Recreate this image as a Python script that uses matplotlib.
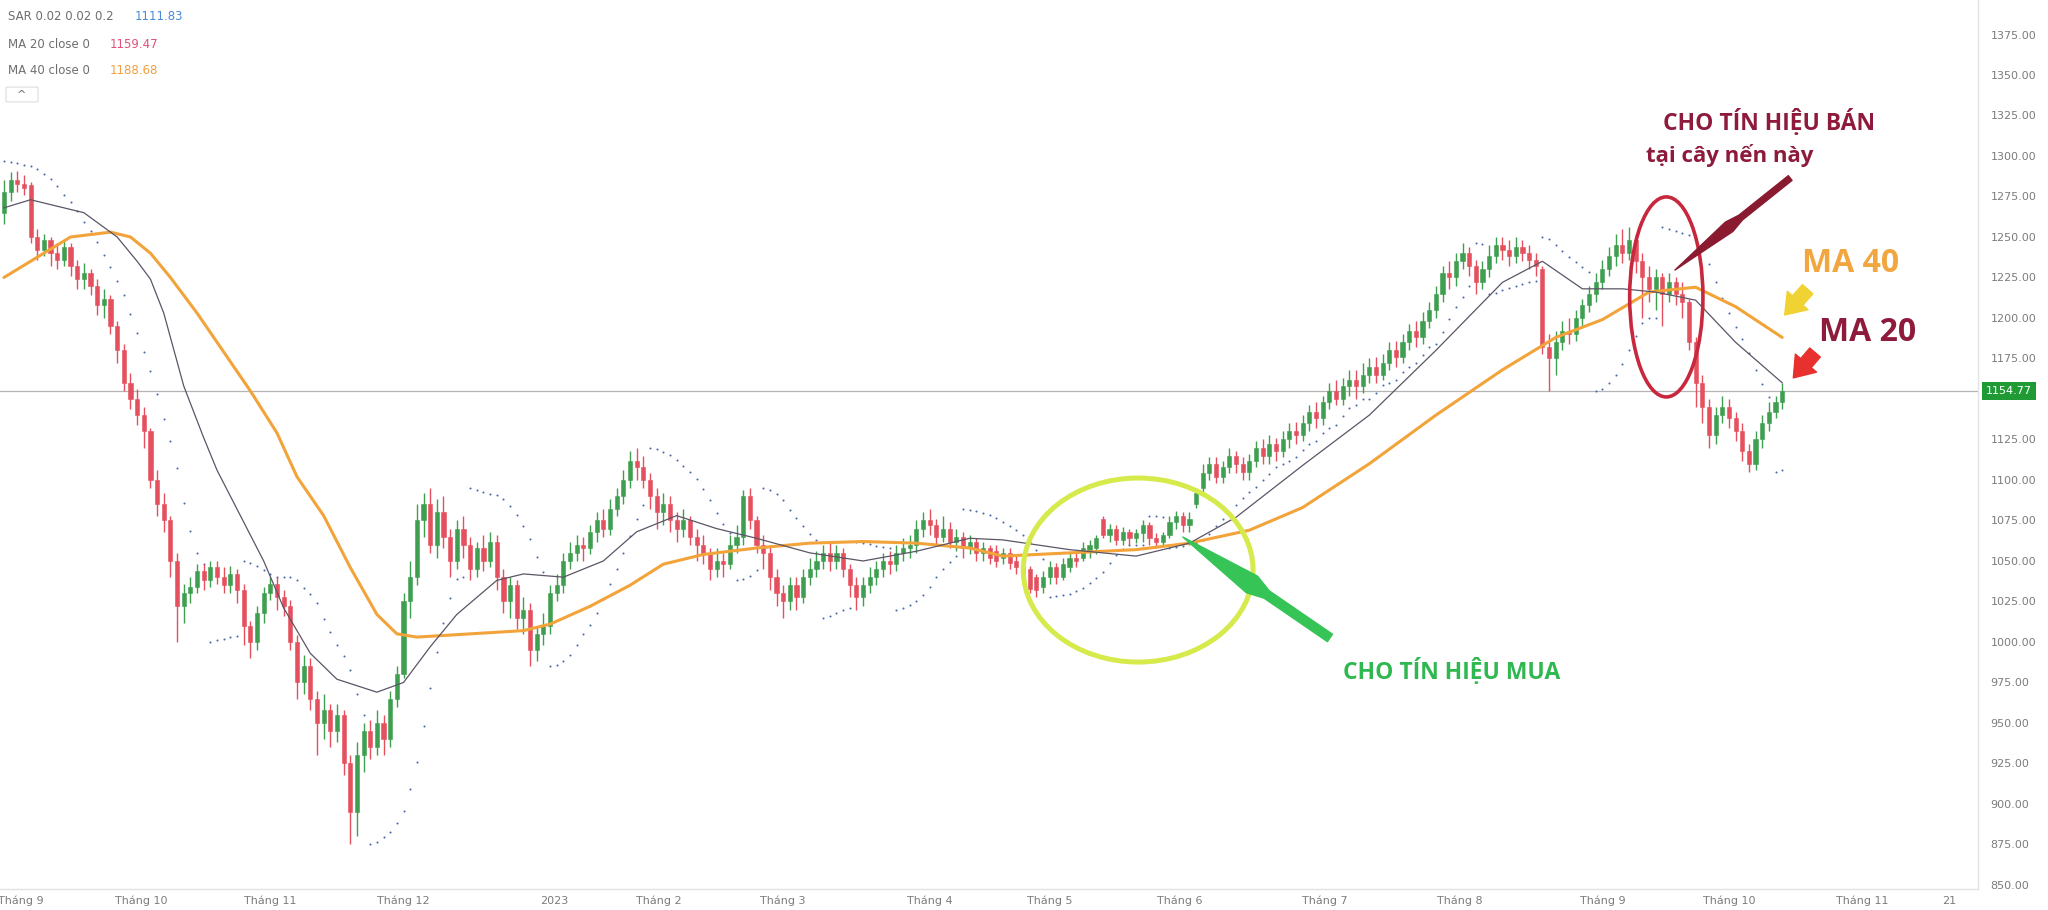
import numpy as np
import matplotlib
matplotlib.use("Agg")
import matplotlib.pyplot as plt
from matplotlib.patches import Ellipse, Polygon, FancyBboxPatch
from matplotlib.transforms import IdentityTransform, blended_transform_factory

# ---------------- data (daily candles, Sep 2022 -> Oct 2023) ----------------
opens = [
 1265,1278,1285,1283,1282,1250,1242,1248,1240,1236,
 1244,1232,1224,1228,1220,1208,1212,1195,1180,1160,
 1150,1140,1130,1100,1085,1075,1050,1022,1030,1034,
 1044,1038,1046,1040,1035,1042,1032,1010,1000,1018,
 1030,1036,1028,1022,1000,975,985,965,950,958,
 945,955,925,895,930,945,935,950,940,965,
 980,1025,1040,1075,1085,1060,1080,1065,1050,1070,
 1060,1045,1058,1050,1062,1040,1025,1035,1015,1020,
 995,1005,1010,1030,1035,1050,1055,1060,1058,1068,
 1075,1070,1082,1090,1100,1112,1108,1100,1090,1080,
 1085,1075,1070,1075,1065,1060,1055,1045,1050,1048,
 1060,1065,1090,1075,1060,1055,1040,1030,1025,1035,
 1028,1040,1045,1050,1055,1050,1055,1045,1035,1028,
 1035,1040,1045,1050,1048,1055,1058,1060,1070,1075,
 1072,1065,1070,1062,1065,1058,1062,1055,
 1058,1056,1052,1055,1050,1046,1045,1040,1034,1040,1046,1040,
 1046,1052,1052,1056,1058,1076,1066,1070,1063,1068,
 1064,1067,1072,1064,1062,1066,1074,1078,1072,1085,
 1095,1104,1110,1102,1108,1115,1110,1105,1112,1120,
 1115,1122,1118,1125,1130,1128,1135,1142,1138,1148,
 1155,1150,1158,1162,1158,1165,1170,1165,1172,1180,
 1176,1185,1192,1188,1198,1205,1215,1228,1225,1235,
 1240,1232,1222,1230,1238,1245,1242,1238,1244,1240,
 1236,1230,1182,1175,1185,1192,1190,1200,1208,1215,
 1222,1230,1238,1245,1240,1248,1235,1225,1218,1225,
 1215,1222,1215,1210,1185,1160,1145,1128,1140,1145,
 1138,1130,1118,1110,1125,1135,1142,1148]
closes = [
 1278,1285,1283,1280,1250,1242,1248,1240,1236,1244,
 1232,1224,1228,1220,1208,1212,1195,1180,1160,1150,
 1140,1130,1100,1085,1075,1050,1022,1030,1034,1044,
 1038,1046,1040,1035,1042,1032,1010,1000,1018,1030,
 1036,1028,1022,1000,975,985,965,950,958,945,
 955,925,895,930,945,935,950,940,965,980,
 1025,1040,1075,1085,1060,1080,1065,1050,1070,1060,
 1045,1058,1050,1062,1040,1025,1035,1015,1020,995,
 1005,1010,1030,1035,1050,1055,1060,1058,1068,1075,
 1070,1082,1090,1100,1112,1108,1100,1090,1080,1085,
 1075,1070,1075,1065,1060,1055,1045,1050,1048,1060,
 1065,1090,1075,1060,1055,1040,1030,1025,1035,1028,
 1040,1045,1050,1055,1050,1055,1045,1035,1028,1035,
 1040,1045,1050,1048,1055,1058,1060,1070,1075,1072,
 1065,1070,1062,1065,1058,1062,1055,1058,
 1052,1050,1055,1049,1046,1040,1033,1032,1040,1046,1040,1048,
 1052,1050,1058,1060,1064,1066,1070,1063,1068,1064,
 1067,1072,1064,1062,1066,1074,1078,1072,1076,1092,
 1104,1110,1102,1108,1115,1110,1105,1112,1120,1115,
 1122,1118,1125,1130,1128,1135,1142,1138,1148,1155,
 1150,1158,1162,1158,1165,1170,1165,1172,1180,1176,
 1185,1192,1188,1198,1205,1215,1228,1225,1235,1240,
 1232,1222,1230,1238,1245,1242,1238,1244,1240,1236,
 1232,1182,1175,1185,1192,1190,1200,1208,1215,1222,
 1230,1238,1245,1240,1248,1235,1225,1218,1225,1215,
 1222,1215,1210,1185,1160,1145,1128,1140,1145,1138,
 1130,1118,1110,1125,1135,1142,1148,1154.77]
highs = [
 1285,1290,1291,1288,1284,1255,1252,1250,1246,1248,
 1246,1236,1234,1230,1224,1218,1214,1198,1184,1166,
 1156,1145,1132,1106,1092,1078,1055,1036,1040,1048,
 1048,1050,1050,1046,1047,1045,1036,1013,1022,1034,
 1040,1040,1032,1026,1004,992,990,970,968,962,
 962,958,930,938,950,952,958,955,970,985,
 1030,1050,1085,1092,1095,1088,1090,1070,1075,1078,
 1065,1062,1066,1068,1066,1045,1040,1038,1028,1024,
 1010,1018,1035,1042,1055,1062,1066,1065,1072,1080,
 1082,1088,1095,1106,1118,1120,1115,1104,1095,1092,
 1090,1080,1082,1078,1070,1066,1058,1058,1055,1066,
 1072,1094,1095,1078,1066,1060,1045,1035,1040,1040,
 1045,1052,1056,1060,1062,1060,1058,1048,1040,1040,
 1046,1050,1055,1056,1060,1064,1066,1075,1080,1082,
 1076,1078,1074,1070,1068,1066,1064,1062,
 1060,1060,1058,1058,1054,1050,1047,1042,1044,1050,1049,1052,
 1055,1056,1062,1063,1066,1078,1073,1072,1071,1070,
 1070,1075,1074,1067,1068,1078,1081,1080,1080,1095,
 1110,1114,1114,1112,1120,1118,1114,1116,1124,1125,
 1128,1126,1130,1135,1136,1140,1146,1148,1152,1160,
 1162,1163,1168,1168,1172,1175,1176,1178,1185,1186,
 1190,1196,1198,1204,1210,1220,1232,1235,1240,1246,
 1244,1236,1235,1245,1250,1250,1248,1250,1248,1245,
 1240,1232,1190,1192,1198,1200,1205,1212,1220,1228,
 1236,1244,1252,1255,1256,1252,1240,1232,1230,1228,
 1228,1225,1222,1212,1188,1165,1150,1145,1152,1150,
 1142,1135,1122,1130,1140,1148,1152,1160]
lows = [
 1258,1272,1278,1276,1246,1236,1238,1232,1230,1232,
 1226,1218,1218,1214,1202,1200,1190,1172,1155,1144,
 1134,1120,1095,1078,1068,1040,1000,1012,1024,1030,
 1032,1034,1036,1030,1030,1024,998,990,995,1012,
 1026,1020,1016,995,965,968,958,930,940,935,
 938,918,875,880,920,928,930,930,935,960,
 978,1015,1035,1065,1055,1052,1058,1040,1045,1052,
 1038,1040,1044,1046,1032,1018,1015,1008,1005,985,
 988,998,1005,1025,1030,1045,1050,1050,1054,1062,
 1065,1066,1078,1085,1095,1100,1095,1082,1070,1072,
 1068,1062,1065,1060,1050,1048,1038,1040,1040,1045,
 1055,1060,1070,1055,1045,1032,1022,1015,1020,1020,
 1024,1035,1040,1045,1044,1045,1040,1028,1020,1022,
 1030,1035,1040,1042,1044,1050,1052,1055,1065,1066,
 1060,1062,1058,1056,1052,1054,1050,1050,
 1048,1046,1048,1045,1042,1036,1030,1028,1030,1036,1036,1038,
 1043,1046,1050,1052,1054,1064,1062,1060,1060,1060,
 1061,1062,1060,1058,1060,1064,1070,1068,1068,1083,
 1092,1100,1098,1098,1104,1104,1100,1100,1108,1110,
 1110,1112,1114,1120,1122,1124,1130,1132,1134,1144,
 1146,1146,1152,1150,1154,1160,1160,1162,1168,1170,
 1172,1180,1182,1184,1194,1200,1210,1218,1220,1230,
 1226,1215,1218,1225,1234,1236,1232,1234,1235,1230,
 1226,1178,1155,1165,1180,1184,1186,1195,1204,1210,
 1218,1226,1232,1234,1236,1228,1200,1210,1205,1195,
 1210,1208,1200,1180,1145,1135,1120,1122,1135,1132,
 1124,1112,1105,1106,1120,1130,1138,1144]

# moving averages (candle index, value)
ma20_idx = [0,4,12,17,20,22,24,27,30,32,36,39,42,46,50,56,60,64,68,74,78,84,90,95,101,
            107,113,121,129,137,145,150,160,170,178,185,195,205,215,225,231,237,243,248,
            254,260,267]
ma20_val = [1268,1273,1265,1250,1235,1224,1203,1158,1126,1106,1074,1050,1021,993,977,969,
            975,997,1017,1038,1042,1040,1050,1068,1078,1070,1064,1055,1050,1056,1064,1063,
            1057,1053,1061,1077,1109,1140,1180,1222,1235,1218,1218,1216,1211,1185,1160]
ma40_idx = [0,10,16,19,22,25,29,33,37,41,44,48,52,56,59,62,70,78,82,88,94,99,105,113,121,
            129,137,145,150,160,170,178,187,195,205,215,225,233,240,247,254,260,267]
ma40_val = [1225,1250,1253,1250,1240,1225,1203,1179,1155,1129,1102,1078,1046,1017,1005,
            1003,1005,1007,1011,1022,1035,1048,1054,1058,1061,1062,1061,1058,1053,1055,
            1057,1061,1069,1083,1110,1140,1168,1188,1199,1216,1219,1207,1188]

month_pos = [2.6, 20.6, 40, 60, 82.7, 98.4, 117, 139, 157, 176.5, 198.4, 218.6, 240, 259, 279, 292]
month_labels = ["Tháng 9", "Tháng 10", "Tháng 11", "Tháng 12", "2023", "Tháng 2", "Tháng 3",
                "Tháng 4", "Tháng 5", "Tháng 6", "Tháng 7", "Tháng 8", "Tháng 9", "Tháng 10",
                "Tháng 11", "21"]
price_ticks = [850, 875, 900, 925, 950, 975, 1000, 1025, 1050, 1075, 1100, 1125,
               1175, 1200, 1225, 1250, 1275, 1300, 1325, 1350, 1375]
last_price = 1154.77
legend_rows = [("SAR 0.02 0.02 0.2", "1111.83"), ("MA 20 close 0", "1159.47"),
               ("MA 40 close 0", "1188.68")]

assert len(opens) == len(closes) == len(highs) == len(lows)

# ---------------- figure ----------------
W, H = 2048, 910
fig = plt.figure(figsize=(W / 100, H / 100), dpi=100)
fig.patch.set_facecolor("white")
ax = fig.add_axes([0, 1 - 889 / H, 1978 / W, 889 / H])
ax.set_facecolor("white")
ax.set_xlim(-0.59, 296.4)
ax.set_ylim(847.5, 1396.3)

o = np.array(opens, float); c = np.array(closes, float)
h = np.array(highs, float); l = np.array(lows, float)
x = np.arange(len(c))
UP, DN = "#3f9f50", "#e4505e"
col = np.where(c >= o, UP, DN)
ax.vlines(x, l, h, colors=col, lw=1.0, zorder=3)
ax.bar(x, np.maximum(np.abs(c - o), 0.9), bottom=np.minimum(o, c), width=0.62,
       color=col, edgecolor=col, lw=0.4, zorder=4)

# parabolic SAR (0.02, 0.02, 0.2) computed from the candles
def psar(hi, lo, af0=0.02, step=0.02, afmax=0.2):
    n = len(hi); out = np.zeros(n)
    bull = False; af = af0; ep = lo[0]; out[0] = hi[:3].max() + 6
    for i in range(1, n):
        s = out[i - 1] + af * (ep - out[i - 1])
        if bull:
            s = min(s, lo[i - 1], lo[max(i - 2, 0)])
            if lo[i] < s:
                bull = False; s = ep; ep = lo[i]; af = af0
            elif hi[i] > ep:
                ep = hi[i]; af = min(af + step, afmax)
        else:
            s = max(s, hi[i - 1], hi[max(i - 2, 0)])
            if hi[i] > s:
                bull = True; s = ep; ep = hi[i]; af = af0
            elif lo[i] < ep:
                ep = lo[i]; af = min(af + step, afmax)
        out[i] = s
    return out

sar = psar(h, l)
ax.scatter(x, sar, s=2.2, color="#4a6aa8", zorder=2, linewidths=0)
ax.plot(ma40_idx, ma40_val, color="#f2a33a", lw=2.2, zorder=5, solid_capstyle="round",
        solid_joinstyle="round")
ax.plot(ma20_idx, ma20_val, color="#5b5566", lw=0.9, zorder=5)

# last price line + badge
ax.axhline(last_price, color="#b4b4b4", lw=0.9, zorder=1)
bt = blended_transform_factory(ax.transAxes, ax.transData)
ax.text(1.004, last_price, f"{last_price:.2f}", transform=bt, ha="left", va="center",
        fontsize=8, color="white", clip_on=False,
        bbox=dict(boxstyle="square,pad=0.35", fc="#1f9a35", ec="none"))

# axes styling
ax.yaxis.tick_right()
ax.set_yticks(price_ticks)
ax.set_yticklabels([f"{t:.2f}" for t in price_ticks])
ax.set_xticks(month_pos)
ax.set_xticklabels(month_labels)
ax.tick_params(axis="y", length=0, pad=9, labelsize=8, labelcolor="#7c7c7c")
ax.tick_params(axis="x", length=0, pad=5, labelsize=8, labelcolor="#7c7c7c")
for s in ("top", "left"):
    ax.spines[s].set_visible(False)
for s in ("right", "bottom"):
    ax.spines[s].set_color("#e2e2e2"); ax.spines[s].set_linewidth(1.0)

# legend (top-left)
for k, (lab, val) in enumerate(legend_rows):
    yy = 1 - (17 + 27 * k) / H
    fig.text(8 / W, yy, lab, fontsize=8.5, color="#6e6e6e", va="center")
    fig.text((135 if k == 0 else 110) / W, yy, val, fontsize=8.5, va="center",
             color=["#4a8ad8", "#e0507a", "#f0a040"][k])
fig.patches.append(FancyBboxPatch((8 / W, 1 - 101 / H), 28 / W, 13 / H,
                                  boxstyle="round,pad=0.001", transform=fig.transFigure,
                                  fc="white", ec="#dddddd", lw=0.8))
fig.text(22 / W, 1 - 95 / H, "^", fontsize=8, color="#666666", ha="center", va="center")

# ---------------- annotations ----------------
def shaped_arrow(tail, tip, w_bulge, w_tail, f_bulge, color):
    p0 = ax.transData.transform(tip); p1 = ax.transData.transform(tail)
    d = p1 - p0; L = np.hypot(*d); u = d / L; nv = np.array([-u[1], u[0]])
    pts = [p0,
           p0 + u * L * f_bulge + nv * w_bulge / 2,
           p0 + u * L * (f_bulge + 0.1) + nv * w_tail / 2,
           p1 + nv * w_tail / 2,
           p1 - nv * w_tail / 2,
           p0 + u * L * (f_bulge + 0.1) - nv * w_tail / 2,
           p0 + u * L * f_bulge - nv * w_bulge / 2]
    ax.add_patch(Polygon(pts, closed=True, transform=IdentityTransform(), fc=color,
                         ec=color, lw=1, zorder=8, joinstyle="round"))

ax.add_patch(Ellipse((249.6, 1213), 11.0, 123.5, fill=False, ec="#c8283e", lw=2.6, zorder=7))
ax.add_patch(Ellipse((170.3, 1044.4), 34.5, 113.6, fill=False, ec="#d6ea4c", lw=3.6, zorder=7))

ax.text(249.1, 1320.4, "CHO TÍN HIỆU BÁN", color="#8e1b3b", fontsize=16.5, fontweight="bold",
        family="Open Sans", ha="left", va="center", zorder=9)
ax.text(246.6, 1300, "tại cây nến này", color="#8e1b3b", fontsize=16, fontweight="bold",
        family="Open Sans", ha="left", va="center", zorder=9)
ax.text(269.9, 1233.5, "MA 40", color="#f2a640", fontsize=23, fontweight="bold",
        family="Open Sans", ha="left", va="center", zorder=9)
ax.text(272.6, 1191, "MA 20", color="#8e1b3b", fontsize=23, fontweight="bold",
        family="Open Sans", ha="left", va="center", zorder=9)
ax.text(201.0, 982.0, "CHO TÍN HIỆU MUA", color="#2fb84f", fontsize=16.5, fontweight="bold",
        family="Open Sans", ha="left", va="center", zorder=9)

shaped_arrow((268.2, 1286.4), (250.9, 1229.6), 12, 6, 0.47, "#8a1a30")
shaped_arrow((199.1, 1002.5), (177.0, 1064.8), 20, 9, 0.47, "#36c457")

ax.annotate("", xy=(267.1, 1200.6), xytext=(271.1, 1219),
            arrowprops=dict(arrowstyle="simple,head_length=0.7,head_width=1.0,tail_width=0.5",
                            color="#f0d232", mutation_scale=20), zorder=9)
ax.annotate("", xy=(268.4, 1161.7), xytext=(272.2, 1180),
            arrowprops=dict(arrowstyle="simple,head_length=0.7,head_width=1.0,tail_width=0.5",
                            color="#e8302e", mutation_scale=20), zorder=9)

fig.savefig("out.png", dpi=100, facecolor="white")
